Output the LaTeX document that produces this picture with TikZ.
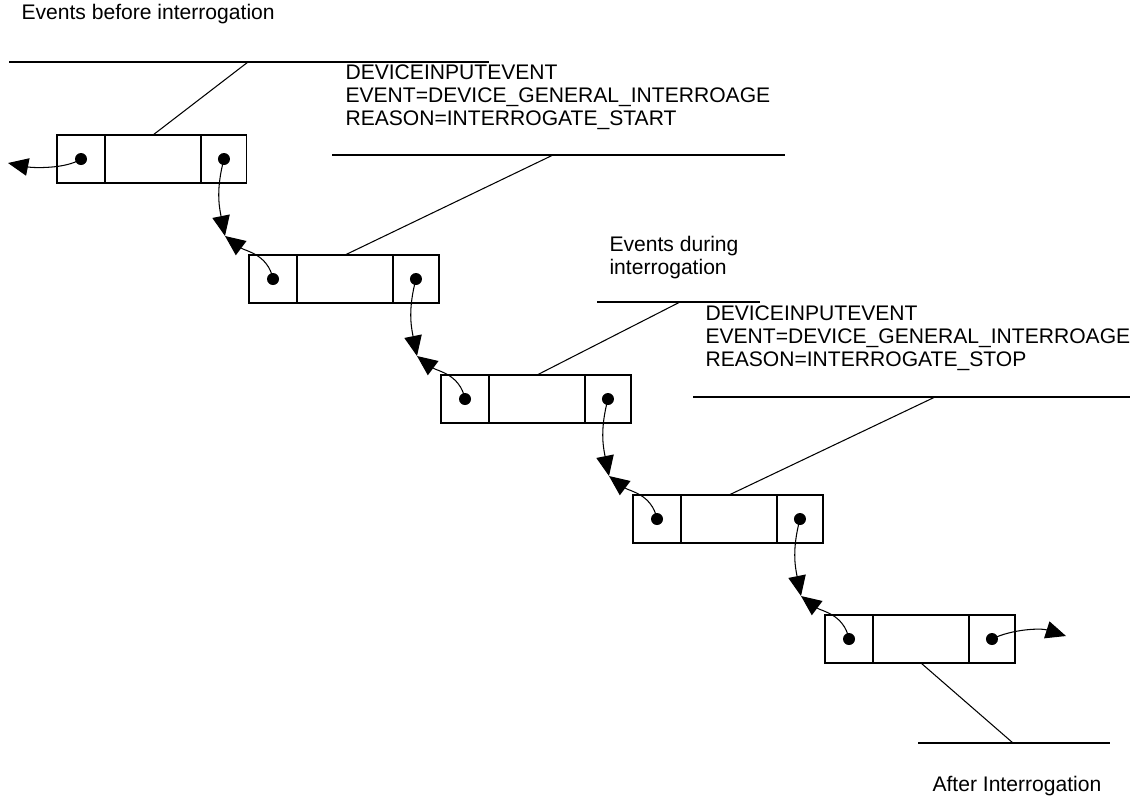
\documentclass[tikz,border=0pt]{standalone}
\usepackage{fontspec}
\setmainfont{Liberation Sans}
\usetikzlibrary{positioning}
\usetikzlibrary{arrows.meta}

\begin{document}
\begin{tikzpicture}[x=0.02cm,y=-0.02cm,line width=0.6pt,
  cellbox/.style={draw,rectangle,inner sep=0pt,outer sep=0pt,minimum height=0.96cm},
  note/.style={anchor=west,align=left,inner sep=0pt,font=\fontsize{12}{13.1}\selectfont},
  ptr/.style={-{Triangle[length=11.5pt,width=10pt]}}]
\useasboundingbox (0,0) rectangle (1138,799);

% list entries
\foreach \k in {1,...,5} {
  \pgfmathsetmacro{\cx}{81+192*(\k-1)}
  \pgfmathsetmacro{\cy}{159+120*(\k-1)}
  \node[cellbox,minimum width=0.96cm] (l\k) at (\cx,\cy) {};
  \node[cellbox,minimum width=1.92cm,right=0pt of l\k] (m\k) {};
  \node[cellbox,minimum width=0.92cm,right=0pt of m\k] (r\k) {};
  \fill (l\k.center) circle[radius=6];
  \fill (r\k.center) circle[radius=6];
}

% links between entries
\foreach \k [evaluate=\k as \n using int(\k+1)] in {1,...,4} {
  \coordinate (c\k) at ({225+192*(\k-1)},{236+120*(\k-1)});
  \draw[ptr] (r\k.center) .. controls +(-8,30) and +(-6,-30) .. (c\k);
  \draw[ptr] (l\n.center) .. controls +(-5,-25) and +(20,15) .. (c\k);
}
\coordinate (w) at (8,163);
\coordinate (e) at (1066,636);
\draw[ptr] (l1.center) .. controls +(-15,10) and +(25,5) .. (w);
\draw[ptr] (r5.center) .. controls +(20,-10) and +(-25,-8) .. (e);

% notes
\node[note] (before) at (21,14) {Events before interrogation};
\draw (9,62) -- (489,62);
\coordinate (s1) at (248,62);
\draw (s1) -- (m1.north);

\node[note] (start) at (345,97) {DEVICEINPUTEVENT\\EVENT=DEVICE\_GENERAL\_INTERROAGE\\REASON=INTERROGATE\_START};
\draw (332,155) -- (785,155);
\coordinate (s2) at (553,155);
\draw (s2) -- (m2.north);

\node[note] (during) at (609,258) {Events during\\interrogation};
\draw (597,302) -- (760,302);
\coordinate (s3) at (680,302);
\draw (s3) -- (m3.north);

\node[note] (stop) at (705,338) {DEVICEINPUTEVENT\\EVENT=DEVICE\_GENERAL\_INTERROAGE\\REASON=INTERROGATE\_STOP};
\draw (693,397) -- (1130,397);
\coordinate (s4) at (935,397);
\draw (s4) -- (m4.north);

\coordinate (s5) at (1013,743);
\draw (m5.south) -- (s5);
\draw (918,743) -- (1110,743);
\node[note] (after) at (932,786) {After Interrogation};

\end{tikzpicture}
\end{document}
